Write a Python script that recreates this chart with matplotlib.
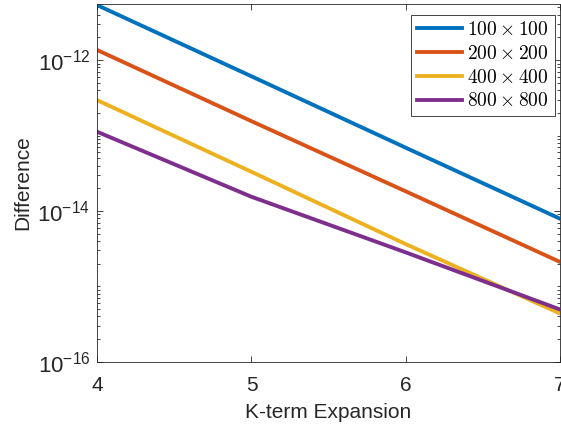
import matplotlib
matplotlib.use('Agg')
import matplotlib.pyplot as plt
import numpy as np
from matplotlib.ticker import FixedLocator, LogLocator, FuncFormatter, NullFormatter

plt.rcParams['font.family'] = ['Liberation Sans', 'DejaVu Sans']
plt.rcParams['mathtext.fontset'] = 'cm'

k_terms = [4, 5, 6, 7]
diff_100 = [5.36e-12, 6.1e-13, 6.9e-14, 7.9e-15]
diff_200 = [1.36e-12, 1.55e-13, 1.82e-14, 2.11e-15]
diff_400 = [2.94e-13, 3.3e-14, 3.63e-15, 4.37e-16]
diff_800 = [1.12e-13, 1.54e-14, 2.82e-15, 4.94e-16]
labels = [r'$100\times100$', r'$200\times200$', r'$400\times400$', r'$800\times800$']
colors = ['#0072BD', '#D95319', '#EDB120', '#7E2F8E']

fig = plt.figure(figsize=(5.61, 4.32), dpi=100)
ax = fig.add_axes([0.1734, 0.1627, 0.8246, 0.8273])

for d, lab, c in zip([diff_100, diff_200, diff_400, diff_800], labels, colors):
    ax.plot(k_terms, d, color=c, lw=2.8, label=lab)

ax.set_yscale('log')
ax.set_xlim(4, 7)
ax.set_ylim(1e-16, 5.5e-12)
ax.set_xticks(k_terms)
ax.yaxis.set_major_locator(FixedLocator([1e-16, 1e-14, 1e-12]))
ax.yaxis.set_minor_locator(LogLocator(base=10, subs=np.arange(1, 10), numticks=30))
ax.yaxis.set_minor_formatter(NullFormatter())
ax.yaxis.set_major_formatter(FuncFormatter(
    lambda v, p: r'$\mathregular{10^{%d}}$' % int(round(np.log10(v)))))

ax.tick_params(which='both', direction='in', top=True, right=True,
               color='#262626', labelcolor='#262626', width=0.6)
ax.tick_params(axis='x', labelsize=15, pad=10)
ax.tick_params(axis='y', labelsize=16, pad=5)
ax.tick_params(which='major', length=4)
ax.tick_params(which='minor', length=2)
for s in ax.spines.values():
    s.set_color('#262626')
    s.set_linewidth(0.6)

ax.set_xlabel('K-term Expansion', fontsize=15, color='#262626', labelpad=6)
ax.set_ylabel('Difference', fontsize=15, color='#262626', labelpad=4)

leg = ax.legend(loc='upper right', bbox_to_anchor=(0.989, 0.970), borderaxespad=0,
                fontsize=14, fancybox=False, framealpha=1,
                handlelength=2.3, handletextpad=0.3, borderpad=0.3,
                labelspacing=0.3)
leg.get_frame().set_edgecolor('#262626')
leg.get_frame().set_linewidth(0.6)

fig.savefig('out.png', dpi=100)
